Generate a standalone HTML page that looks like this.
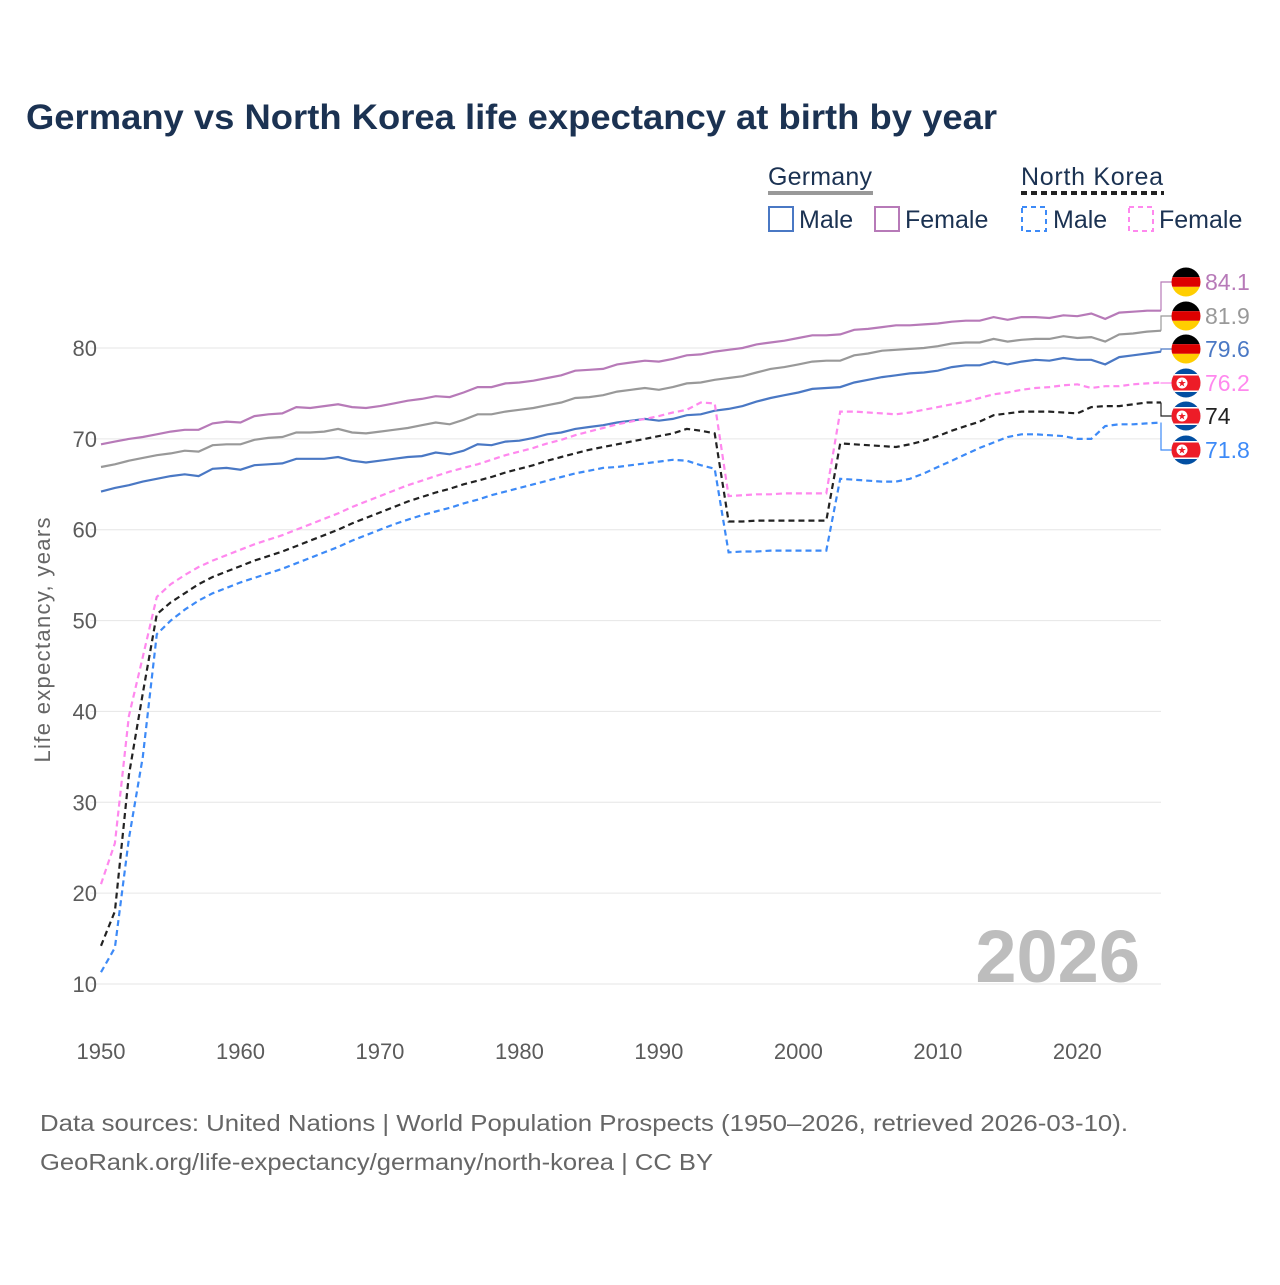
<!DOCTYPE html>
<html><head><meta charset="utf-8"><style>
body{margin:0;background:#fff;}
svg text{font-family:"Liberation Sans",sans-serif;}
</style></head><body>
<svg id="chart" width="1280" height="1280" viewBox="0 0 1280 1280" xmlns="http://www.w3.org/2000/svg">
<text x="26" y="129" font-size="35" font-weight="bold" fill="#1b3252" textLength="971" lengthAdjust="spacingAndGlyphs">Germany vs North Korea life expectancy at birth by year</text>
<g font-size="25" fill="#1b3252">
  <text x="768" y="185" fill="#1b3252" textLength="104">Germany</text>
  <line x1="768" y1="193" x2="873" y2="193" stroke="#999" stroke-width="4"/>
  <text x="1021" y="185" fill="#1b3252" textLength="142">North Korea</text>
  <line x1="1021" y1="193" x2="1164" y2="193" stroke="#222" stroke-width="4" stroke-dasharray="6,4"/>
  <g><rect x="769" y="207" width="24" height="24" fill="none" stroke="#4a78c4" stroke-width="2"/><text x="799" y="228" fill="#1b3252">Male</text></g>
  <g><rect x="875" y="207" width="24" height="24" fill="none" stroke="#b77ab8" stroke-width="2"/><text x="905" y="228" fill="#1b3252">Female</text></g>
  <g><rect x="1022" y="207" width="24" height="24" fill="none" stroke="#3d8af7" stroke-width="2" stroke-dasharray="5,4"/><text x="1053" y="228" fill="#1b3252">Male</text></g>
  <g><rect x="1129" y="207" width="24" height="24" fill="none" stroke="#ff88ee" stroke-width="2" stroke-dasharray="5,4"/><text x="1159" y="228" fill="#1b3252">Female</text></g>
</g>
<g id="grid"></g>
<g id="yticks"></g>
<g id="xticks"></g>
<text x="50" y="640" font-size="22" fill="#666" transform="rotate(-90 50 640)" text-anchor="middle" textLength="245">Life expectancy, years</text>
<text x="1140" y="982" font-size="74" font-weight="bold" fill="#bdbdbd" text-anchor="end">2026</text>
<g id="series"></g>
<g id="endlabels"></g>
<text x="40" y="1131" font-size="23" fill="#666" textLength="1088" lengthAdjust="spacingAndGlyphs">Data sources: United Nations | World Population Prospects (1950–2026, retrieved 2026-03-10).</text>
<text x="40" y="1170" font-size="23" fill="#666" textLength="673" lengthAdjust="spacingAndGlyphs">GeoRank.org/life-expectancy/germany/north-korea | CC BY</text>
</svg>
<script>
const years = []; for (let y = 1950; y <= 2026; y++) years.push(y);
const yTicks = [10,20,30,40,50,60,70,80];
const xTicks = [1950,1960,1970,1980,1990,2000,2010,2020];
const deMale = [64.2,64.6,64.9,65.3,65.6,65.9,66.1,65.9,66.7,66.8,66.6,67.1,67.2,67.3,67.8,67.8,67.8,68.0,67.6,67.4,67.6,67.8,68.0,68.1,68.5,68.3,68.7,69.4,69.3,69.7,69.8,70.1,70.5,70.7,71.1,71.3,71.5,71.8,72.0,72.2,72.0,72.2,72.6,72.7,73.1,73.3,73.6,74.1,74.5,74.8,75.1,75.5,75.6,75.7,76.2,76.5,76.8,77.0,77.2,77.3,77.5,77.9,78.1,78.1,78.5,78.2,78.5,78.7,78.6,78.9,78.7,78.7,78.2,79.0,79.2,79.4,79.6];
const deTotal = [66.9,67.2,67.6,67.9,68.2,68.4,68.7,68.6,69.3,69.4,69.4,69.9,70.1,70.2,70.7,70.7,70.8,71.1,70.7,70.6,70.8,71.0,71.2,71.5,71.8,71.6,72.1,72.7,72.7,73.0,73.2,73.4,73.7,74.0,74.5,74.6,74.8,75.2,75.4,75.6,75.4,75.7,76.1,76.2,76.5,76.7,76.9,77.3,77.7,77.9,78.2,78.5,78.6,78.6,79.2,79.4,79.7,79.8,79.9,80.0,80.2,80.5,80.6,80.6,81.0,80.7,80.9,81.0,81.0,81.3,81.1,81.2,80.7,81.5,81.6,81.8,81.9];
const deFemale = [69.4,69.7,70.0,70.2,70.5,70.8,71.0,71.0,71.7,71.9,71.8,72.5,72.7,72.8,73.5,73.4,73.6,73.8,73.5,73.4,73.6,73.9,74.2,74.4,74.7,74.6,75.1,75.7,75.7,76.1,76.2,76.4,76.7,77.0,77.5,77.6,77.7,78.2,78.4,78.6,78.5,78.8,79.2,79.3,79.6,79.8,80.0,80.4,80.6,80.8,81.1,81.4,81.4,81.5,82.0,82.1,82.3,82.5,82.5,82.6,82.7,82.9,83.0,83.0,83.4,83.1,83.4,83.4,83.3,83.6,83.5,83.8,83.2,83.9,84.0,84.1,84.1];
const kpMale = [11.3,14.0,26.0,35.0,48.5,50.0,51.2,52.2,53.0,53.6,54.2,54.7,55.2,55.7,56.3,56.9,57.5,58.1,58.8,59.4,60.0,60.6,61.1,61.6,62.0,62.4,62.9,63.3,63.8,64.2,64.6,65.0,65.4,65.8,66.2,66.5,66.8,66.9,67.1,67.3,67.5,67.7,67.6,67.1,66.7,57.5,57.6,57.6,57.7,57.7,57.7,57.7,57.7,65.6,65.5,65.4,65.3,65.3,65.6,66.2,66.9,67.6,68.3,69.0,69.6,70.2,70.5,70.5,70.4,70.3,70.0,70.0,71.4,71.6,71.6,71.7,71.8];
const kpTotal = [14.2,18.0,33.0,42.0,50.7,52.0,53.0,54.0,54.8,55.4,56.0,56.6,57.1,57.6,58.2,58.8,59.4,60.0,60.7,61.3,61.9,62.5,63.1,63.6,64.1,64.5,65.0,65.4,65.8,66.3,66.7,67.1,67.6,68.0,68.4,68.8,69.1,69.4,69.7,70.0,70.3,70.6,71.1,70.9,70.6,60.9,60.9,61.0,61.0,61.0,61.0,61.0,61.0,69.5,69.4,69.3,69.2,69.1,69.4,69.8,70.3,70.9,71.4,71.9,72.6,72.8,73.0,73.0,73.0,72.9,72.8,73.5,73.6,73.6,73.8,74.0,74.0];
const kpFemale = [21.0,25.5,39.5,46.0,52.6,54.0,55.0,55.9,56.6,57.2,57.8,58.4,58.9,59.4,60.0,60.6,61.2,61.8,62.5,63.1,63.7,64.3,64.9,65.4,65.9,66.4,66.8,67.2,67.7,68.2,68.6,69.0,69.5,69.9,70.4,70.8,71.2,71.6,71.9,72.2,72.5,72.9,73.2,74.0,73.9,63.7,63.8,63.9,63.9,64.0,64.0,64.0,64.0,73.0,73.0,72.9,72.8,72.7,72.9,73.2,73.5,73.8,74.1,74.5,74.9,75.1,75.4,75.6,75.7,75.9,76.0,75.6,75.8,75.8,76.0,76.1,76.2];

const NS = "http://www.w3.org/2000/svg";
const X0 = 101, X1 = 1161, Y10 = 984, Y80 = 348;
const xs = y => X0 + (y - 1950) * (X1 - X0) / (2026 - 1950);
const ys = v => Y10 + (v - 10) * (Y80 - Y10) / 70;
function mk(tag, attrs, parent){ const e = document.createElementNS(NS, tag); for (const k in attrs) e.setAttribute(k, attrs[k]); parent.appendChild(e); return e; }
const grid = document.getElementById('grid'), yt = document.getElementById('yticks'), xt = document.getElementById('xticks');
yTicks.forEach(v => {
  const l = mk('line', {x1: 90, x2: X1, y1: ys(v), y2: ys(v), stroke: '#e6e6e6', 'stroke-width': 1}, grid);
  
  
  const t = mk('text', {x: 97, y: ys(v) + 8, 'font-size': 22, fill: '#5b5b5b', 'text-anchor': 'end'}, yt);
  t.textContent = v;
  
  
});
xTicks.forEach(v => {
  const t = mk('text', {x: xs(v), y: 1059, 'font-size': 22, fill: '#5b5b5b', 'text-anchor': 'middle'}, xt);
  t.textContent = v;
  
  
});
const series = [
  {name:'germany-female', d:deFemale, c:'#b77ab8', dash:null, lc:'#b77ab8', flag:'de'},
  {name:'germany-total', d:deTotal, c:'#999999', dash:null, lc:'#999999', flag:'de'},
  {name:'germany-male', d:deMale, c:'#4a78c4', dash:null, lc:'#4a78c4', flag:'de'},
  {name:'north-korea-female', d:kpFemale, c:'#ff88ee', dash:'6,4', lc:'#ff88ee', flag:'kp'},
  {name:'north-korea-total', d:kpTotal, c:'#222222', dash:'6,4', lc:'#222222', flag:'kp'},
  {name:'north-korea-male', d:kpMale, c:'#3d8af7', dash:'6,4', lc:'#3d8af7', flag:'kp'}
];
const sg = document.getElementById('series'), eg = document.getElementById('endlabels');
const labelY = [282, 316, 349, 383, 416, 450];
series.forEach((s, i) => {
  const pts = s.d.map((v, j) => xs(years[j]).toFixed(1) + ',' + ys(v).toFixed(1)).join(' ');
  const p = mk('polyline', {points: pts, fill: 'none', stroke: s.c, 'stroke-width': 2.2}, sg);
  if (s.dash) p.setAttribute('stroke-dasharray', s.dash);
  
  
  const last = s.d[s.d.length - 1], ly = labelY[i];
  const con = mk('polyline', {points: `${X1},${ys(last)} ${X1},${ly} 1172,${ly}`, fill: 'none', stroke: s.c, 'stroke-width': 1.2}, eg);
  
  
  const g = mk('g', {}, eg);
  
  
  const cx = 1186, r = 14.5;
  const cid = 'clip' + i;
  const cp = mk('clipPath', {id: cid}, g); mk('circle', {cx: cx, cy: ly, r: r}, cp);
  const fg = mk('g', {'clip-path': `url(#${cid})`}, g);
  if (s.flag === 'de') {
    mk('rect', {x: cx - r, y: ly - r, width: 2*r, height: 2*r/3, fill: '#000'}, fg);
    mk('rect', {x: cx - r, y: ly - r/3, width: 2*r, height: 2*r/3, fill: '#dd0000'}, fg);
    mk('rect', {x: cx - r, y: ly + r/3, width: 2*r, height: 2*r/3, fill: '#ffce00'}, fg);
  } else {
    mk('rect', {x: cx - r, y: ly - r, width: 2*r, height: 2*r, fill: '#024fa2'}, fg);
    mk('rect', {x: cx - r, y: ly - 9, width: 2*r, height: 18, fill: '#fff'}, fg);
    mk('rect', {x: cx - r, y: ly - 7.5, width: 2*r, height: 15, fill: '#ed1c27'}, fg);
    mk('circle', {cx: cx - 4, cy: ly, r: 5.5, fill: '#fff'}, fg);
    const st = mk('text', {x: cx - 4, y: ly + 3.5, 'font-size': 10, fill: '#ed1c27', 'text-anchor': 'middle'}, fg);
    st.textContent = '★';
  }
  const t = mk('text', {x: 1205, y: ly + 8, 'font-size': 23, fill: s.lc}, eg);
  t.textContent = String(last);
  
  
});
</script>
</body></html>
